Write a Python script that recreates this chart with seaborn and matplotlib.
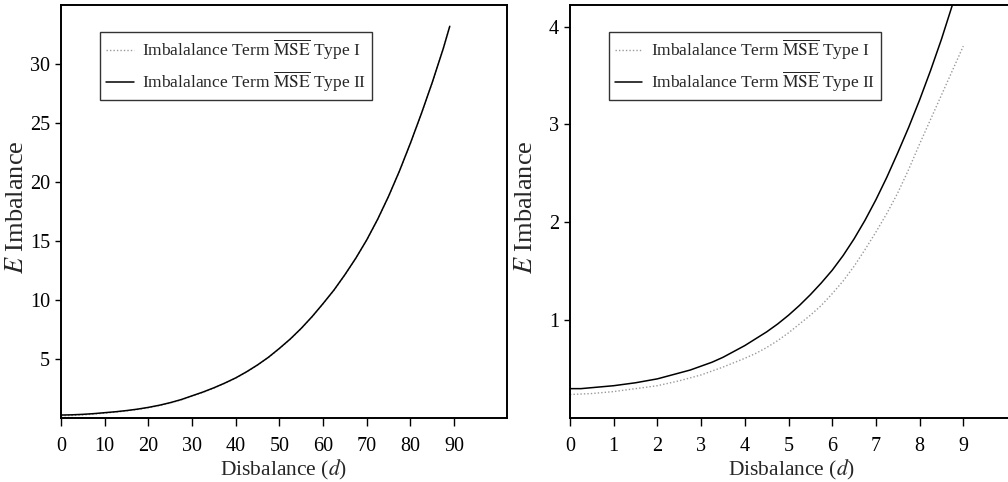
import numpy as np
import pandas as pd
import matplotlib
matplotlib.use("Agg")
import matplotlib.pyplot as plt
import seaborn as sns

# ---- data ----
d_left = [0, 2.5, 5, 7.5, 10, 12.5, 15, 17.5, 20, 22.5, 25, 27.5, 30, 32.5, 35, 37.5,
          40, 42.5, 45, 47.5, 50, 52.5, 55, 57.5, 60, 62.5, 65, 67.5, 70, 72.5, 75,
          77.5, 80, 82.5, 85, 87.5, 89]
left_type2 = [0.25, 0.27, 0.31, 0.37, 0.45, 0.53, 0.63, 0.75, 0.90, 1.08, 1.30, 1.56,
              1.88, 2.20, 2.56, 2.96, 3.40, 3.92, 4.50, 5.15, 5.90, 6.70, 7.60, 8.60,
              9.70, 10.85, 12.15, 13.55, 15.10, 16.85, 18.80, 20.95, 23.30, 25.80,
              28.45, 31.30, 33.20]
left_type1 = [0.19, 0.21, 0.26, 0.33, 0.41, 0.50, 0.60, 0.72, 0.87, 1.05, 1.27, 1.53,
              1.85, 2.17, 2.53, 2.94, 3.38, 3.90, 4.48, 5.13, 5.88, 6.68, 7.58, 8.58,
              9.68, 10.83, 12.13, 13.53, 15.08, 16.83, 18.78, 20.93, 23.28, 25.78,
              28.43, 31.28, 33.18]

d_right = [0, 0.25, 0.5, 0.75, 1, 1.25, 1.5, 1.75, 2, 2.25, 2.5, 2.75, 3, 3.25, 3.5,
           3.75, 4, 4.25, 4.5, 4.75, 5, 5.25, 5.5, 5.75, 6, 6.25, 6.5, 6.75, 7, 7.25,
           7.5, 7.75, 8, 8.25, 8.5, 8.75, 9]
right_type2 = [0.30, 0.30, 0.31, 0.32, 0.33, 0.345, 0.36, 0.38, 0.40, 0.43, 0.46, 0.49,
               0.53, 0.57, 0.62, 0.68, 0.74, 0.81, 0.88, 0.96, 1.05, 1.15, 1.26, 1.38,
               1.51, 1.66, 1.83, 2.02, 2.23, 2.46, 2.71, 2.97, 3.25, 3.55, 3.87, 4.22,
               4.60]
right_type1 = [0.24, 0.245, 0.25, 0.26, 0.27, 0.285, 0.30, 0.315, 0.33, 0.355, 0.38,
               0.41, 0.44, 0.48, 0.52, 0.565, 0.61, 0.66, 0.72, 0.79, 0.87, 0.96, 1.05,
               1.15, 1.27, 1.40, 1.55, 1.72, 1.90, 2.09, 2.30, 2.54, 2.80, 3.05, 3.30,
               3.55, 3.80]

left_xticks = [0, 10, 20, 30, 40, 50, 60, 70, 80, 90]
left_yticks = [5, 10, 15, 20, 25, 30]
right_xticks = [0, 1, 2, 3, 4, 5, 6, 7, 8, 9]
right_yticks = [1, 2, 3, 4]

label1 = r"Imbalalance Term $\overline{\mathrm{MSE}}$ Type I"
label2 = r"Imbalalance Term $\overline{\mathrm{MSE}}$ Type II"

sns.set_style("white")
plt.rcParams["font.family"] = ["Liberation Serif", "DejaVu Serif"]
plt.rcParams["mathtext.fontset"] = "stix"

fig = plt.figure(figsize=(10.08, 4.82), dpi=100)
ax1 = fig.add_axes([61 / 1008, 64 / 482, 446 / 1008, 413 / 482])
ax2 = fig.add_axes([570 / 1008, 64 / 482, 444 / 1008, 413 / 482])

def draw(ax, x, y1, y2, xlim, ylim, xt, yt):
    df1 = pd.DataFrame({"d": x, "v": y1})
    df2 = pd.DataFrame({"d": x, "v": y2})
    sns.lineplot(data=df1, x="d", y="v", ax=ax, color="#9a9a9a", lw=1.0,
                 linestyle=(0, (1, 1.5)), label=label1, sort=False)
    sns.lineplot(data=df2, x="d", y="v", ax=ax, color="black", lw=1.1,
                 label=label2, sort=False)
    ax.set_xlim(*xlim)
    ax.set_ylim(*ylim)
    ax.set_xticks(xt)
    ax.set_xticklabels([str(t) for t in xt])
    ax.set_yticks(yt)
    ax.set_yticklabels([str(t) for t in yt])
    for s in ax.spines.values():
        s.set_color("black")
        s.set_linewidth(1.4)
        s.set_visible(True)
    ax.tick_params(axis="x", direction="out", length=6, width=1, pad=8,
                   labelsize=14.5, colors="black", bottom=True)
    ax.tick_params(axis="y", direction="out", length=4, width=1, pad=4,
                   labelsize=14.5, colors="black", left=True)
    ax.set_xlabel(r"Disbalance ($d$)", fontsize=15.5, labelpad=1)
    ax.set_ylabel(r"$E$ Imbalance", fontsize=19)
    ax.yaxis.set_label_coords(-0.074, 0.51)
    leg = ax.legend(loc="upper left", bbox_to_anchor=(0.087, 0.935), fontsize=12.5,
                    frameon=True, fancybox=False, shadow=False, handlelength=1.6,
                    borderpad=0.35, labelspacing=0.45, handletextpad=0.5,
                    borderaxespad=0)
    leg.get_frame().set_edgecolor("black")
    leg.get_frame().set_linewidth(1.0)

draw(ax1, d_left, left_type1, left_type2, (0, 102.1), (0, 35), left_xticks, left_yticks)
draw(ax2, d_right, right_type1, right_type2, (0, 10.16), (0, 4.22), right_xticks, right_yticks)

fig.savefig("out.png", dpi=100, facecolor="white")
